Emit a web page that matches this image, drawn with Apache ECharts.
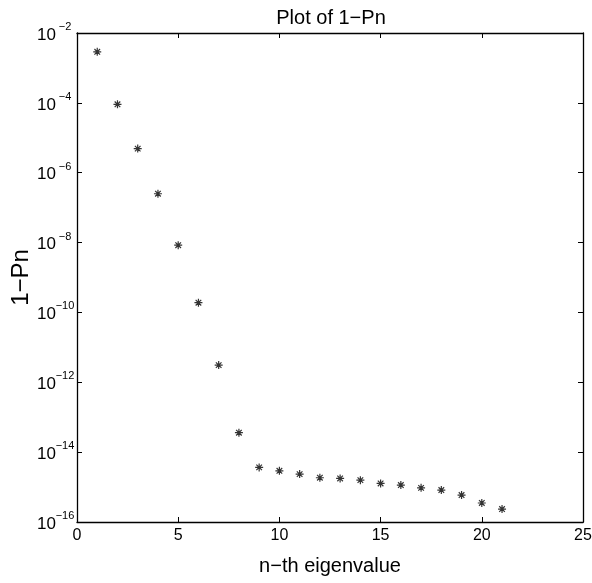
<!DOCTYPE html>
<html><head><meta charset="utf-8">
<script src="https://cdn.jsdelivr.net/npm/echarts@6/dist/echarts.min.js"></script>
<style>html,body{margin:0;padding:0;background:#fff}#c{width:592px;height:583px}</style>
</head><body><div id="c"></div>
<script>
const titleText = "Plot of 1\u2212Pn";
const xName = "n\u2212th eigenvalue";
const yName = "1\u2212Pn";
const nValues = [1,2,3,4,5,6,7,8,9,10,11,12,13,14,15,16,17,18,19,20,21];
const residual = [2.9e-3, 9.1e-5, 4.9e-6, 2.5e-7, 8.4e-9, 1.9e-10, 3.1e-12, 3.6e-14,
  3.66e-15, 2.92e-15, 2.35e-15, 1.85e-15, 1.77e-15, 1.58e-15, 1.27e-15, 1.14e-15,
  9.5e-16, 8.2e-16, 5.9e-16, 3.5e-16, 2.35e-16];
const xTicks = [0, 5, 10, 15, 20, 25];
const yExpTicks = [-16, -14, -12, -10, -8, -6, -4, -2];

const font = "Liberation Sans, Arial, Helvetica, sans-serif";
const chart = echarts.init(document.getElementById('c'));
const star = 'path://M0,-5L0,5M-5,0L5,0M-3.5,-3.5L3.5,3.5M-3.5,3.5L3.5,-3.5';
const axisLine = {show:true, onZero:false, lineStyle:{color:'#000', width:1.3}};
const axisTick = {show:true, inside:true, length:5, lineStyle:{color:'#000', width:1}};
chart.setOption({
  animation:false,
  backgroundColor:'#fff',
  title:{text:titleText, left:326, top:3, textAlign:'center',
    textStyle:{fontFamily:font, fontSize:20, fontWeight:'normal', color:'#000'}},
  grid:{left:77, top:33, right:9, bottom:61, containLabel:false, outerBoundsMode:'none'},
  xAxis:[{
    type:'value', min:xTicks[0], max:xTicks[xTicks.length-1], interval:5,
    name:xName, nameLocation:'middle', nameGap:34, nameMoveOverlap:false,
    nameTextStyle:{fontFamily:font, fontSize:20, color:'#000'},
    axisLine, axisTick, splitLine:{show:false},
    axisLabel:{fontFamily:font, fontSize:16, color:'#000', margin:6}
  },{
    type:'value', position:'top', min:xTicks[0], max:xTicks[xTicks.length-1], interval:5,
    axisLine, axisTick, axisLabel:{show:false}, splitLine:{show:false}
  }],
  yAxis:[{
    type:'log', logBase:10, min:Math.pow(10,yExpTicks[0]), max:Math.pow(10,yExpTicks[yExpTicks.length-1]), interval:2,
    name:yName, nameLocation:'middle', nameGap:44, nameMoveOverlap:false,
    nameTextStyle:{fontFamily:font, fontSize:24, color:'#000'},
    axisLine, axisTick, splitLine:{show:false},
    axisLabel:{margin:3, formatter:function(v){
        const e = Math.round(Math.log10(v));
        return '{b|10}{s|' + (e<0?'\u2212':'') + Math.abs(e) + '}';
      },
      rich:{b:{fontFamily:font, fontSize:17, color:'#000', padding:[4,0,0,0]},
            s:{fontFamily:font, fontSize:11, color:'#000', width:18, align:'left', padding:[0,0,12,0]}}}
  },{
    type:'log', logBase:10, position:'right', min:Math.pow(10,yExpTicks[0]), max:Math.pow(10,yExpTicks[yExpTicks.length-1]), interval:2,
    axisLine, axisTick, axisLabel:{show:false}, splitLine:{show:false}
  }],
  series:[{
    type:'scatter', xAxisIndex:0, yAxisIndex:0,
    data:nValues.map((n,i)=>[n, residual[i]]),
    symbol:star, symbolSize:8,
    itemStyle:{color:'#000', borderColor:'#000', borderWidth:1.2}
  }]
});
</script></body></html>
